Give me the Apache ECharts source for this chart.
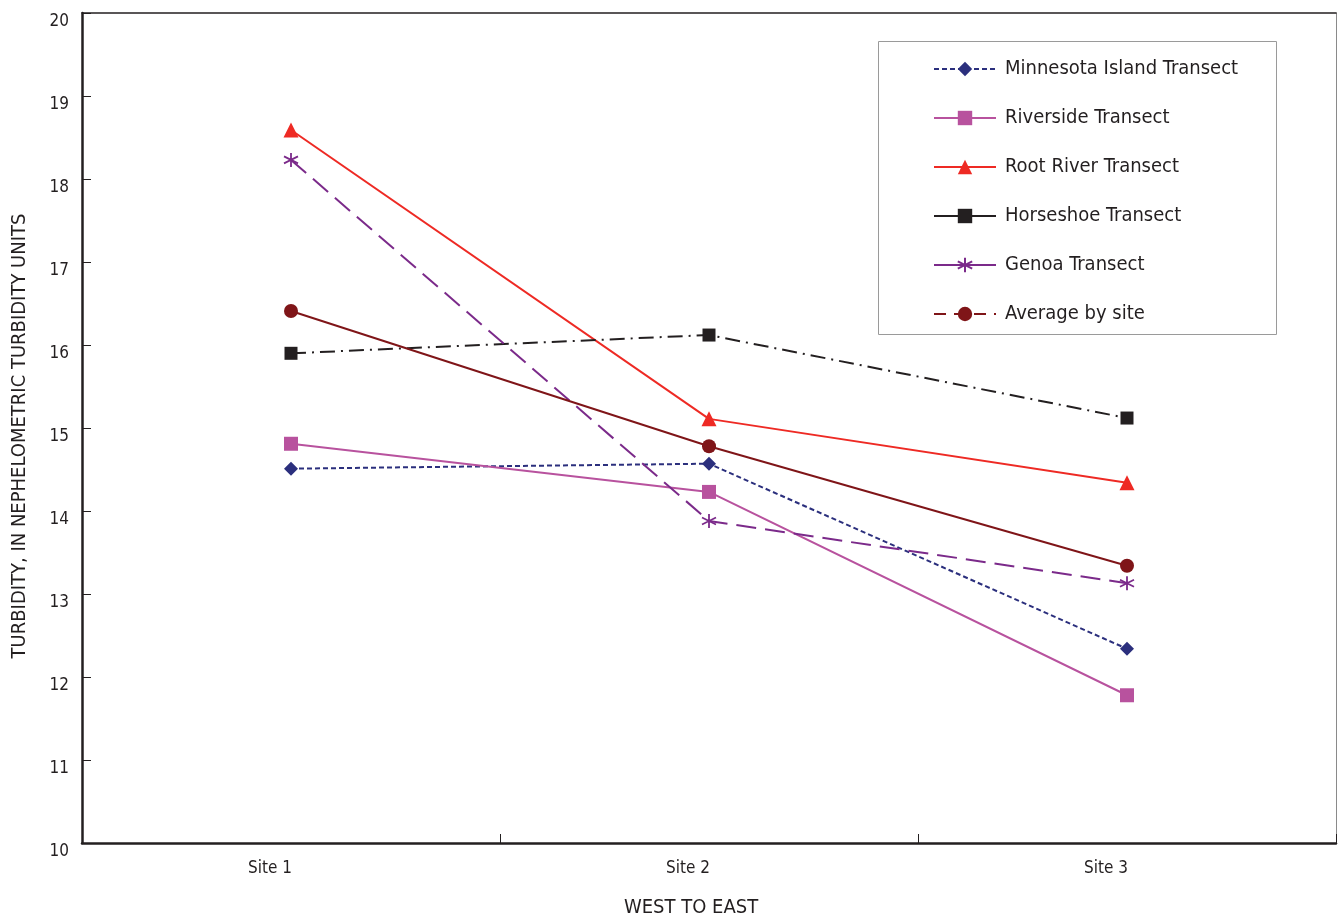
<!DOCTYPE html>
<html>
<head>
<meta charset="utf-8">
<script src="https://cdn.jsdelivr.net/npm/echarts@6/dist/echarts.min.js"></script>
<style>
  html, body { margin: 0; padding: 0; background: #fff; }
  #chart { width: 1338px; height: 920px; }
</style>
</head>
<body>
<div id="chart"></div>
<script>
// Sites along the river, west to east
const sites = ['Site 1', 'Site 2', 'Site 3'];

// Turbidity (NTU) by transect
const minnesotaIsland = [14.51, 14.57, 12.34];
const riverside       = [14.81, 14.23, 11.78];
const rootRiver       = [18.59, 15.11, 14.34];
const horseshoe       = [15.90, 16.12, 15.12];
const genoa           = [18.23, 13.88, 13.13];
const averageBySite   = [16.41, 14.78, 13.34];

const yTicks = [10, 11, 12, 13, 14, 15, 16, 17, 18, 19, 20];

const FONT = "'Liberation Sans Narrow', 'DejaVu Sans Condensed', 'Roboto', sans-serif";
const INK = '#231f20';

const asterisk = 'path://M0,-10L0,10M-8.66,-5L8.66,5M-8.66,5L8.66,-5';

function lineSeries(name, data, color, type, symbol, size, extra) {
  return Object.assign({
    name: name,
    type: 'line',
    data: data,
    xAxisIndex: 0,
    yAxisIndex: 0,
    symbol: symbol,
    symbolSize: size,
    showAllSymbol: true,
    lineStyle: { color: color, width: 2, type: type },
    itemStyle: { color: color },
    emphasis: { disabled: true },
    animation: false,
    z: 3
  }, extra || {});
}

const series = [
  lineSeries('Minnesota Island Transect', minnesotaIsland, '#2b2f7d', [5, 3], 'diamond', 14),
  lineSeries('Riverside Transect', riverside, '#b8529e', 'solid', 'rect', 14),
  lineSeries('Root River Transect', rootRiver, '#ee2a24', 'solid', 'triangle', 15),
  lineSeries('Horseshoe Transect', horseshoe, INK, [15, 6, 2, 6], 'rect', 13),
  lineSeries('Genoa Transect', genoa, '#7b2a8a', [20, 9], asterisk, 14, {
    itemStyle: { color: 'none', borderColor: '#7b2a8a', borderWidth: 1.8 }
  }),
  lineSeries('Average by site', averageBySite, '#7f1518', 'solid', 'circle', 14)
];

const legendStyles = [
  { type: [5, 3] }, { type: 'solid' }, { type: 'solid' },
  { type: 'solid' }, { type: 'solid' }, { type: [12, 8] }
];

const chart = echarts.init(document.getElementById('chart'), null, { renderer: 'canvas' });

chart.setOption({
  backgroundColor: '#ffffff',
  animation: false,
  textStyle: { fontFamily: FONT, color: INK },
  grid: { left: 82, right: 2, top: 13, bottom: 77, containLabel: false, outerBoundsMode: 'none' },
  xAxis: [{
    type: 'category',
    data: sites,
    boundaryGap: true,
    position: 'bottom',
    name: 'WEST TO EAST',
    nameLocation: 'middle',
    nameGap: 55,
    nameTextStyle: { fontSize: 20, color: INK, fontFamily: FONT, padding: [0, 36, 0, 0] },
    axisLine: { lineStyle: { color: INK, width: 2.5 } },
    axisTick: { show: true, inside: true, length: 9, lineStyle: { color: INK, width: 1 } },
    axisLabel: { fontSize: 17, color: INK, fontFamily: FONT, margin: 17, padding: [0, 42, 0, 0] },
    splitLine: { show: false }
  }, {
    type: 'category',
    data: sites,
    position: 'top',
    axisLine: { lineStyle: { color: INK, width: 1.5 } },
    axisTick: { show: false },
    axisLabel: { show: false },
    splitLine: { show: false }
  }],
  yAxis: [{
    type: 'value',
    min: 10,
    max: 20,
    interval: 1,
    position: 'left',
    name: 'TURBIDITY, IN NEPHELOMETRIC TURBIDITY UNITS',
    nameLocation: 'middle',
    nameGap: 52,
    nameTextStyle: { fontSize: 20, color: INK, fontFamily: FONT, padding: [0, 16, 0, 0] },
    axisLine: { show: true, lineStyle: { color: INK, width: 2.5 } },
    axisTick: { show: true, inside: true, length: 9, lineStyle: { color: INK, width: 1 } },
    axisLabel: {
      fontSize: 17, color: INK, fontFamily: FONT, margin: 13, verticalAlign: 'top',
      formatter: function (v) { return yTicks.indexOf(v) >= 0 ? String(v) : ''; }
    },
    splitLine: { show: false }
  }, {
    type: 'value',
    min: 10,
    max: 20,
    interval: 1,
    position: 'right',
    axisLine: { show: true, lineStyle: { color: '#8a8a8a', width: 1 } },
    axisTick: { show: false },
    axisLabel: { show: false },
    splitLine: { show: false }
  }],
  legend: {
    orient: 'vertical',
    left: 933,
    top: 59,
    padding: 0,
    itemWidth: 62,
    itemHeight: 18,
    itemGap: 29,
    selectedMode: false,
    textStyle: { fontSize: 20, color: INK, fontFamily: FONT, padding: [0, 0, 0, 4] },
    data: series.map(function (s, i) {
      return { name: s.name, lineStyle: legendStyles[i] };
    })
  },
  graphic: [{
    type: 'rect',
    shape: { x: 878.5, y: 41.5, width: 398, height: 293 },
    style: { fill: 'none', stroke: '#9a9a9a', lineWidth: 1 },
    z: 1
  }],
  series: series
});
</script>
</body>
</html>
